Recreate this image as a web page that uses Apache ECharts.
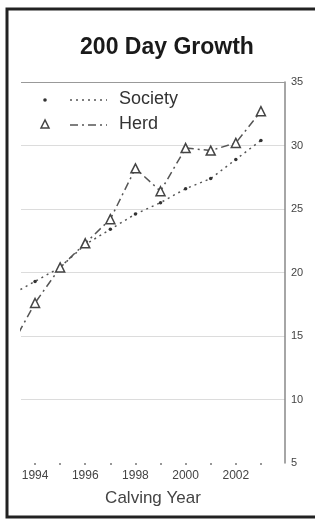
<!DOCTYPE html>
<html>
<head>
<meta charset="utf-8">
<script src="https://cdn.jsdelivr.net/npm/echarts@6/dist/echarts.min.js"></script>
<style>
  html, body { margin: 0; padding: 0; background: #fff; overflow: hidden; }
  #main { width: 315px; height: 522px; }
</style>
</head>
<body>
<div id="main"></div>
<script>
// values
var years = [1993, 1994, 1995, 1996, 1997, 1998, 1999, 2000, 2001, 2002, 2003];
var society = [18.2, 19.3, 20.4, 22.2, 23.4, 24.6, 25.5, 26.6, 27.4, 28.9, 30.4];
var herd = [14.0, 17.6, 20.4, 22.3, 24.2, 28.2, 26.4, 29.8, 29.6, 30.2, 32.7];
var tickYears = [1994, 1995, 1996, 1997, 1998, 1999, 2000, 2001, 2002, 2003];
var labelYears = [1994, 1996, 1998, 2000, 2002];

var myChart = echarts.init(document.getElementById('main'));

function pairs(vals) {
    return years.map((y, i) => [y, vals[i]]);
}

var option = {
    backgroundColor: '#fff',
    animation: false,
    title: {
        text: '200 Day Growth',
        left: 162,
        top: 31,
        textAlign: 'center',
        textStyle: { fontFamily: 'Liberation Sans', fontSize: 23, fontWeight: 'bold', color: '#1a1a1a' }
    },
    grid: { left: 21, right: 30, top: 82, bottom: 59 },
    xAxis: {
        type: 'value',
        min: 1993.44,
        max: 2003.96,
        name: 'Calving Year',
        nameLocation: 'middle',
        nameGap: 27,
        nameTextStyle: { fontFamily: 'Liberation Sans', fontSize: 17, color: '#444' },
        axisLine: { show: false },
        axisTick: { show: true, customValues: tickYears, length: 2, lineStyle: { color: '#777', width: 1.5 } },
        axisLabel: {
            customValues: labelYears,
            formatter: (v) => String(v),
            margin: 7,
            fontFamily: 'Liberation Sans',
            fontSize: 12,
            color: '#444'
        },
        splitLine: { show: false }
    },
    yAxis: {
        type: 'value',
        position: 'right',
        min: 5,
        max: 35,
        interval: 5,
        axisLine: { show: true, lineStyle: { color: '#888', width: 1.5 } },
        axisTick: { show: false },
        axisLabel: { margin: 6, fontFamily: 'Liberation Sans', fontSize: 11, color: '#444' },
        splitLine: { show: true, showMinLine: false, lineStyle: { color: '#dcdcdc', width: 1 } }
    },
    graphic: [
        // outer frame of the scanned page, open on the right
        { type: 'polyline', shape: { points: [[330, 9], [7, 9], [7, 517], [330, 517]] },
          style: { fill: null, stroke: '#222', lineWidth: 3 }, silent: true },
        // legend
        { type: 'circle', shape: { cx: 45, cy: 100, r: 1.8 }, style: { fill: '#333' } },
        { type: 'line', shape: { x1: 70, y1: 100, x2: 107, y2: 100 },
          style: { stroke: '#555', lineWidth: 1.5, lineDash: [2, 4] } },
        { type: 'text', left: 119, top: 90,
          style: { text: 'Society', fontFamily: 'Liberation Sans', fontSize: 18, fill: '#333' } },
        { type: 'polygon', shape: { points: [[45, 120], [41, 128], [49, 128]] },
          style: { fill: '#fff', stroke: '#444', lineWidth: 1.5 } },
        { type: 'line', shape: { x1: 70, y1: 125, x2: 107, y2: 125 },
          style: { stroke: '#555', lineWidth: 1.5, lineDash: [8, 4, 2, 4] } },
        { type: 'text', left: 119, top: 115,
          style: { text: 'Herd', fontFamily: 'Liberation Sans', fontSize: 18, fill: '#333' } }
    ],
    series: [
        {
            name: 'Society',
            type: 'line',
            data: pairs(society),
            clip: true,
            symbol: 'circle',
            symbolSize: 3.5,
            itemStyle: { color: '#333' },
            lineStyle: { color: '#555', width: 1.5, type: [2, 4] },
            markLine: {
                silent: true,
                symbol: 'none',
                label: { show: false },
                lineStyle: { color: '#999', type: 'solid', width: 1 },
                data: [{ yAxis: 35 }]
            }
        },
        {
            name: 'Herd',
            type: 'line',
            data: pairs(herd),
            clip: true,
            symbol: 'triangle',
            symbolSize: 9,
            itemStyle: { color: '#fff', borderColor: '#444', borderWidth: 1.5 },
            lineStyle: { color: '#555', width: 1.5, type: [8, 4, 2, 4] }
        }
    ]
};

myChart.setOption(option);
</script>
</body>
</html>
